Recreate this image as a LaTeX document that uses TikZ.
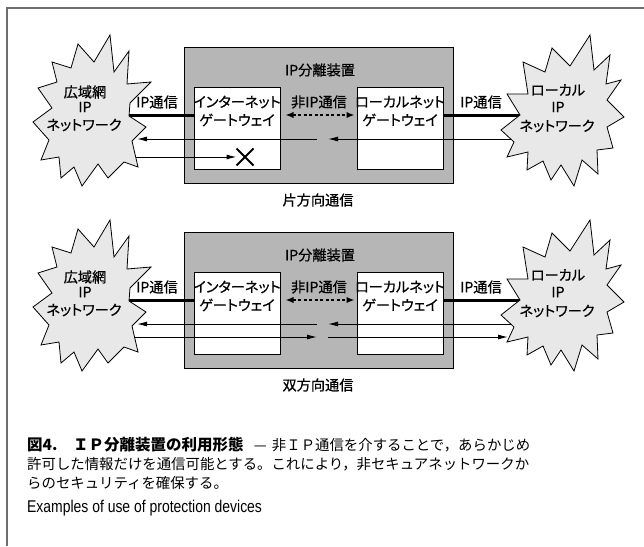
\documentclass[tikz,border=0pt]{standalone}
\usepackage{fontspec}
\setmainfont{Noto Sans CJK JP}
\newfontfamily\lblfont{Noto Sans CJK JP}[RawFeature=+palt, FakeBold=0.6]
\newfontfamily\ensans{Liberation Sans}[FakeStretch=0.82]
\usetikzlibrary{arrows.meta,shapes.misc}
\definecolor{boxgrey}{RGB}{182,182,182}
\definecolor{cloudgrey}{RGB}{232,232,232}
\definecolor{framegrey}{RGB}{110,110,110}
\tikzset{
  lbl/.style={font=\lblfont\fontsize{14.2}{16}\selectfont, inner sep=0pt},
  devbox/.style={draw=black, line width=1pt, fill=boxgrey, minimum width=269pt, minimum height=136pt, inner sep=0pt},
  gwbox/.style={draw=black, line width=1pt, fill=white, minimum width=86pt, minimum height=82pt, inner sep=0pt},
  cloudshape/.style={draw=black, line width=0.8pt, fill=cloudgrey, line join=miter},
  ipline/.style={line width=3pt},
  flow/.style={line width=1pt, -{Latex[length=10pt,width=5pt]}},
  nonip/.style={line width=2.5pt, dash pattern=on 3pt off 2.5pt, {Latex[length=8pt,width=6.5pt]}-{Latex[length=8pt,width=6.5pt]}},
  xmark/.style={cross out, draw=black, line width=2pt, minimum size=15pt, inner sep=0pt},
  capt/.style={font=\fontsize{14.4}{17}\selectfont, inner sep=0pt, anchor=west},
}
\begin{document}
\begin{tikzpicture}[x=1pt,y=-1pt]
\useasboundingbox (0,0) rectangle (644,546);
\fill[white] (0,0) rectangle (644,546);
\draw[framegrey, line width=1.5pt] (7,546) -- (7,8) -- (644,8);

% common parts of both panels
\foreach \pf/\dy/\cpt in {t/0/片方向通信,b/185/双方向通信}{
 \begin{scope}[shift={(0,\dy)}]
  \node[devbox] (\pf dev) at (318.5,115) {};
  \node[lbl] (\pf title) at (320,70) {IP分離装置};
  \node[gwbox] (\pf gwL) at (237,128) {};
  \node[gwbox] (\pf gwR) at (400,128) {};
  \node[lbl] (\pf gwLa) at (237,102) {インターネット};
  \node[lbl] (\pf gwLb) at (237,120) {ゲートウェイ};
  \node[lbl] (\pf gwRa) at (400,102) {ローカルネット};
  \node[lbl] (\pf gwRb) at (400,120) {ゲートウェイ};
  \node[lbl] (\pf nonipl) at (319,102) {非IP通信};
  \node[lbl] (\pf ipL) at (157,102) {IP通信};
  \node[lbl] (\pf ipR) at (481,102) {IP通信};
  \node[lbl] (\pf capn) at (318,200) {\cpt};
  \coordinate (\pf cLa) at (124,115);
  \coordinate (\pf cRa) at (525,115);
  \draw[ipline] (\pf cLa) -- (\pf gwL.west |- \pf cLa);
  \draw[ipline] (\pf gwR.east |- \pf cRa) -- (\pf cRa);
  \draw[nonip, shorten <=5pt, shorten >=2pt] (\pf gwL.east |- \pf cLa) -- (\pf gwR.west |- \pf cLa);
 \end{scope}
}

% top panel flows (one way)
\coordinate (tcRb) at (512,139);
\coordinate (tgR) at (328,139);
\coordinate (tgL) at (317,139);
\coordinate (tcLb) at (137,139);
\draw[flow] (tcRb) -- (tgR);
\draw[flow] (tgL) -- (tcLb);
\coordinate (tcLc) at (134,157);
\node[xmark] (tX) at (245,157) {};
\draw[flow] (tcLc) -- (tX.west);

% bottom panel flows (two way)
\coordinate (bcRb) at (512,324);
\coordinate (bgR) at (328,324);
\coordinate (bgL) at (317,324);
\coordinate (bcLb) at (137,324);
\draw[flow] (bcRb) -- (bgR);
\draw[flow] (bgL) -- (bcLb);
\coordinate (bcLc) at (134,337);
\coordinate (bgL2) at (317,337);
\coordinate (bgR2) at (328,337);
\coordinate (bcRc) at (508,337);
\draw[flow] (bcLc) -- (bgL2);
\draw[flow] (bgR2) -- (bcRc);

% clouds
\foreach \pf/\dy in {t/0,b/185}{
 \begin{scope}[shift={(0,\dy)}]
  \draw[cloudshape] (110,35) -- (114,72) -- (129,51) -- (127,84) -- (151,82) -- (130,103) -- (129,116)
     -- (146,127) -- (132,141) -- (138,167) -- (124,162) -- (108,178) -- (98,164) -- (82,186)
     -- (74,167) -- (61,178) -- (59,157) -- (41,160) -- (49,140) -- (33,122) -- (52,108)
     -- (38,88) -- (57,82) -- (52,62) -- (71,68) -- (78,44) -- (94,62) -- cycle;
  \draw[cloudshape] (590,35) -- (594,70) -- (610,55) -- (606,84) -- (621,80) -- (607,100) -- (624,117)
     -- (607,127) -- (613,148) -- (597,150) -- (598,174) -- (582,160) -- (574,186) -- (561,165)
     -- (551,180) -- (543,161) -- (527,170) -- (528,152) -- (507,157) -- (514,142) -- (501,130)
     -- (520,115) -- (507,94) -- (528,94) -- (523,62) -- (545,72) -- (552,48) -- (570,66) -- cycle;
  \node[lbl] (\pf cLt1) at (85,92) {広域網};
  \node[lbl] (\pf cLt2) at (85,107) {IP};
  \node[lbl] (\pf cLt3) at (84,125) {ネットワーク};
  \node[lbl] (\pf cRt1) at (558,90) {ローカル};
  \node[lbl] (\pf cRt2) at (558,107) {IP};
  \node[lbl] (\pf cRt3) at (557,126) {ネットワーク};
 \end{scope}
}

% caption
\node[capt] (cap1) at (27,445) {\makebox[503pt][l]{{\bfseries\fontsize{15.5}{17}\selectfont 図4.\quad ＩＰ分離装置の利用形態}\hfill — \hspace{2pt}非ＩＰ通信を介することで，あらかじめ}};
\node[capt] (cap2) at (27,464) {許可した情報だけを通信可能とする。これにより，非セキュアネットワークか};
\node[capt] (cap3) at (27,483) {らのセキュリティを確保する。};
\node[capt, font=\ensans\fontsize{17}{19}\selectfont] (cap4) at (27,508) {Examples of use of protection devices};
\end{tikzpicture}
\end{document}
